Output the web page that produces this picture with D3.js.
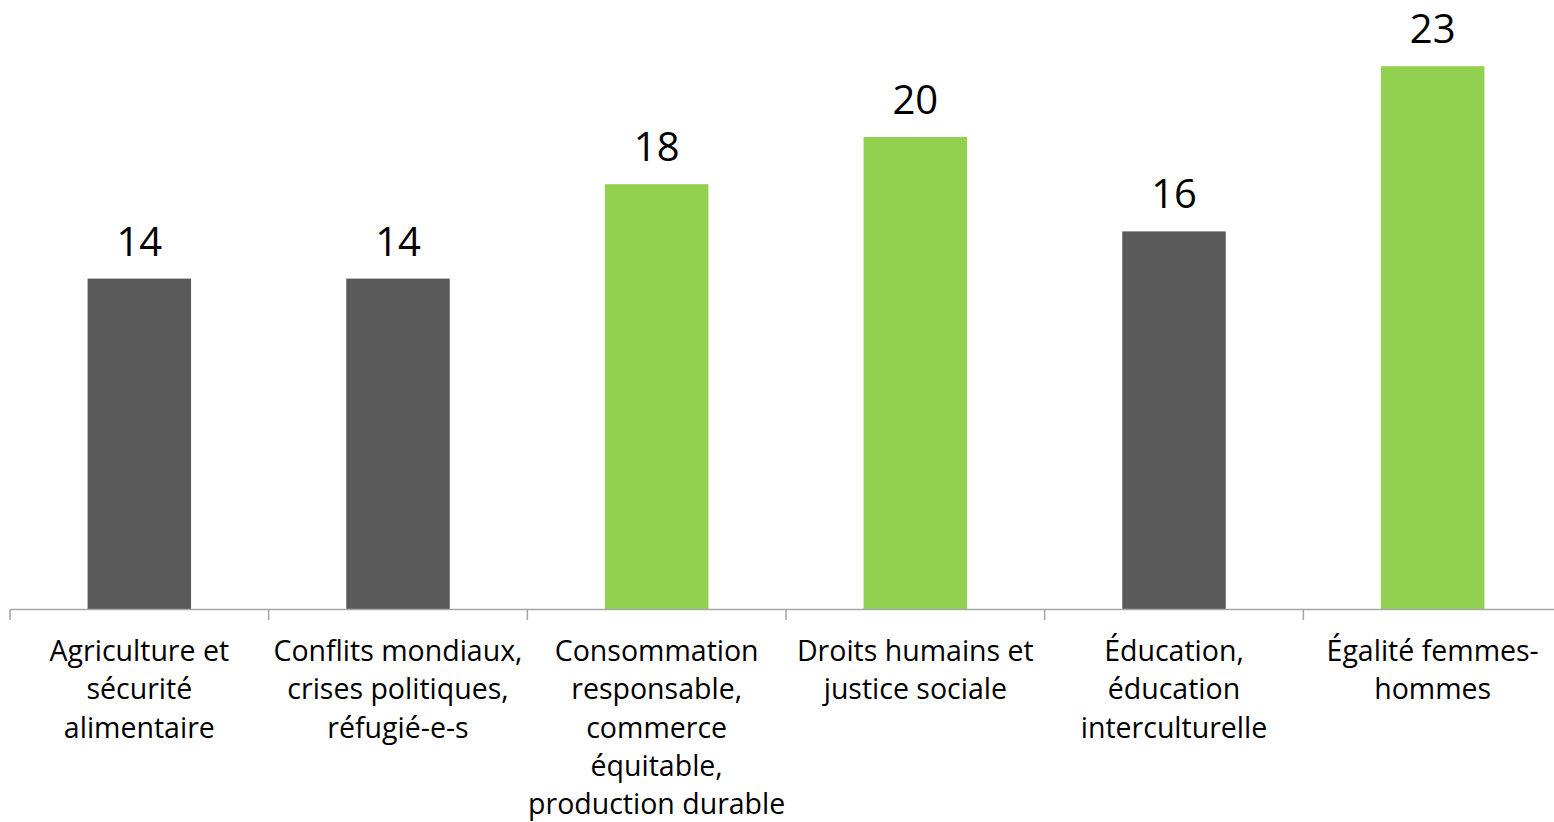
<!DOCTYPE html>
<html>
<head>
<meta charset="utf-8">
<script src="https://cdn.jsdelivr.net/npm/d3@7"></script>
<style>
  html, body { margin: 0; padding: 0; background: #fff; overflow: hidden; }
  svg { display: block; }
</style>
</head>
<body>
<svg id="chart" width="1554" height="822"></svg>
<script>
const categories = [
  "Agriculture et\nsécurité\nalimentaire",
  "Conflits mondiaux,\ncrises politiques,\nréfugié-e-s",
  "Consommation\nresponsable,\ncommerce\néquitable,\nproduction durable",
  "Droits humains et\njustice sociale",
  "Éducation,\néducation\ninterculturelle",
  "Égalité femmes-\nhommes"
];
const values = [14, 14, 18, 20, 16, 23];
const groups = ["base", "base", "highlight", "highlight", "base", "highlight"];

const svg = d3.select("#chart");
const baseY = 609;
const x = d3.scaleBand()
  .domain(categories)
  .range([10, 1562])
  .paddingInner(0.6)
  .paddingOuter(0.3);
const y = d3.scaleLinear().domain([0, 25]).range([baseY, baseY - 25 * 23.6]);
const color = d3.scaleOrdinal().domain(["base", "highlight"]).range(["#595959", "#92D050"]);

const data = categories.map((c, i) => ({ cat: c, value: values[i], group: groups[i] }));

// bars
svg.append("g").selectAll("rect").data(data).join("rect")
  .attr("x", d => x(d.cat))
  .attr("width", x.bandwidth())
  .attr("y", d => y(d.value))
  .attr("height", d => y(0) - y(d.value))
  .attr("fill", d => color(d.group));

// value labels
svg.append("g").selectAll("text").data(data).join("text")
  .attr("x", d => x(d.cat) + x.bandwidth() / 2)
  .attr("y", d => y(d.value) - 23)
  .attr("text-anchor", "middle")
  .attr("font-family", "'Open Sans', sans-serif")
  .attr("font-size", 40)
  .attr("fill", "#000")
  .text(d => d.value);

// axis
const axis = d3.axisBottom(x).tickSize(0).tickFormat("");
const gAxis = svg.append("g").attr("transform", `translate(0,${baseY})`).call(axis);
gAxis.select(".domain").attr("stroke", "#a6a6a6").attr("stroke-width", 1.5);
const step = x.step();
const r0 = x.range()[0];
const bounds = d3.range(categories.length + 1).map(i => r0 + i * step);
gAxis.selectAll(".bound").data(bounds).join("line")
  .attr("class", "bound")
  .attr("x1", d => d).attr("x2", d => d)
  .attr("y1", 0).attr("y2", 11)
  .attr("stroke", "#a6a6a6").attr("stroke-width", 1.5);

// category labels
const labels = svg.append("g").selectAll("text").data(data).join("text")
  .attr("text-anchor", "middle")
  .attr("font-family", "'Open Sans', sans-serif")
  .attr("font-size", 28.5)
  .attr("fill", "#000");
labels.each(function(d) {
  const t = d3.select(this);
  d.cat.split("\n").forEach((line, i) => {
    t.append("tspan")
      .attr("x", x(d.cat) + x.bandwidth() / 2)
      .attr("y", 661 + i * 38.3)
      .text(line);
  });
});
</script>
</body>
</html>
